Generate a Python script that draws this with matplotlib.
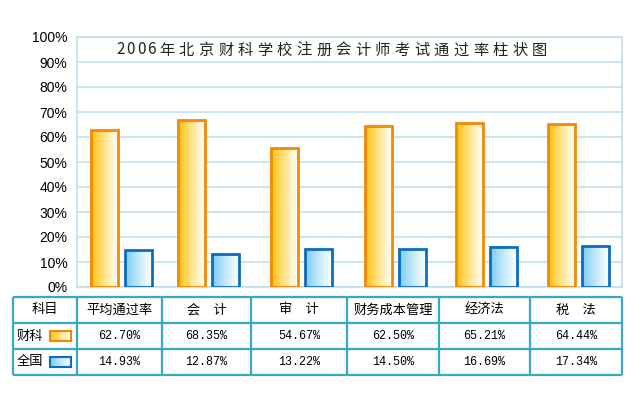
import numpy as np
import matplotlib
matplotlib.use("Agg")
import matplotlib.pyplot as plt
from matplotlib.colors import LinearSegmentedColormap

plt.rcParams['font.family'] = ['Noto Sans CJK SC', 'DejaVu Sans']

# data
title = "2006年北京财科学校注册会计师考试通过率柱状图"
subjects = ["平均通过率", "会　计", "审　计", "财务成本管理", "经济法", "税　法"]
series_names = ["财科", "全国"]
# values printed in the table
caike_table = [62.70, 68.35, 54.67, 62.50, 65.21, 64.44]
quanguo_table = [14.93, 12.87, 13.22, 14.50, 16.69, 17.34]
# bar heights as drawn in the picture
caike_bars = [62.8, 66.8, 55.5, 64.3, 65.5, 65.1]
quanguo_bars = [14.7, 13.1, 15.1, 15.1, 16.1, 16.5]
yticks = list(range(0, 101, 10))

W, H = 640, 393
fig = plt.figure(figsize=(W / 100, H / 100), dpi=100)
fig.patch.set_facecolor("white")

# layout in pixels
plot_l, plot_r, plot_t, plot_b = 77, 622, 37, 287
col_edges = [13, 77, 162, 251, 347, 439, 530, 622]
row_edges = [297, 323, 349, 375]

grid_c = "#C4DEEE"
table_c = "#36A9C6"
orange_edge, blue_edge = "#F28A00", "#0A6EC0"
orange_cmap = LinearSegmentedColormap.from_list("o", ["#FFBF10", "#FFE48A", "#FFFFFF"])
blue_cmap = LinearSegmentedColormap.from_list("b", ["#7ACBF2", "#C3E8FA", "#FFFFFF"])
grad = np.linspace(0, 1, 64).reshape(1, -1)

ax = fig.add_axes([plot_l / W, 1 - plot_b / H, (plot_r - plot_l) / W, (plot_b - plot_t) / H])
ax.set_xlim(0, plot_r - plot_l)
ax.set_ylim(0, 100)
ax.set_yticks(yticks)
ax.set_yticklabels([f"{v}%" for v in yticks], fontsize=10,
                   family=['Liberation Sans Narrow', 'Liberation Sans'])
ax.tick_params(axis='y', length=0, pad=7)
ax.set_xticks([])
ax.grid(axis='y', color=grid_c, lw=1.2, zorder=0)
for s in ax.spines.values():
    s.set_color(grid_c)
    s.set_linewidth(1.2)

centers = [(col_edges[i] + col_edges[i + 1]) / 2 - plot_l for i in range(1, 7)]
bw = 27
x_or = [c - 15 for c in centers]
x_bl = [c + 19 for c in centers]
b1 = ax.bar(x_or, caike_bars, width=bw, facecolor='none', edgecolor=orange_edge, lw=2, zorder=4)
b2 = ax.bar(x_bl, quanguo_bars, width=bw, facecolor='none', edgecolor=blue_edge, lw=2, zorder=4)
for bars, cmap in ((b1, orange_cmap), (b2, blue_cmap)):
    for p in bars:
        x0, y0 = p.get_x(), p.get_y()
        ax.imshow(grad, cmap=cmap, aspect='auto', zorder=3,
                  extent=(x0, x0 + p.get_width(), y0, y0 + p.get_height()))
ax.set_xlim(0, plot_r - plot_l)
ax.set_ylim(0, 100)

# overlay in pixel coords for title and table
ov = fig.add_axes([0, 0, 1, 1], zorder=5)
ov.set_xlim(0, W)
ov.set_ylim(H, 0)
ov.axis('off')
ov.patch.set_alpha(0)

# title, spaced out character by character
x = 115
for ch in title:
    if ch.isdigit():
        ov.text(x + 5.2, 50, ch, fontsize=11, ha='center', va='center', color="#222222")
        x += 10.5
    else:
        if x < 160:
            x = 160
        ov.text(x + 7, 50, ch, fontsize=11, ha='center', va='center', color="#222222")
        x += 19.6

# table grid
ov.hlines(row_edges, col_edges[0], col_edges[-1], color=table_c, lw=1.6)
ov.vlines(col_edges, row_edges[0], row_edges[-1], color=table_c, lw=1.6)

ov.text((col_edges[0] + col_edges[1]) / 2, (row_edges[0] + row_edges[1]) / 2, "科目",
        fontsize=9.5, ha='center', va='center')
for i, s in enumerate(subjects):
    cx = (col_edges[i + 1] + col_edges[i + 2]) / 2
    ov.text(cx, (row_edges[0] + row_edges[1]) / 2, s, fontsize=9.5, ha='center', va='center')

for r, (name, vals, cmap, ec) in enumerate([
        (series_names[0], caike_table, orange_cmap, orange_edge),
        (series_names[1], quanguo_table, blue_cmap, blue_edge)]):
    cy = (row_edges[r + 1] + row_edges[r + 2]) / 2
    ov.text(17, cy, name, fontsize=9.5, ha='left', va='center')
    ov.imshow(grad, cmap=cmap, aspect='auto', extent=(50, 71, cy + 5, cy - 5), zorder=2)
    ov.add_patch(plt.Rectangle((50, cy - 5), 21, 10, fill=False, ec=ec, lw=1.5, zorder=3))
    for i, v in enumerate(vals):
        cx = (col_edges[i + 1] + col_edges[i + 2]) / 2
        ov.text(cx, cy, f"{v:.2f}%", fontsize=8.5, ha='center', va='center',
                family=['Liberation Mono', 'DejaVu Sans Mono'])
ov.set_xlim(0, W)
ov.set_ylim(H, 0)

fig.savefig("out.png", dpi=100)
